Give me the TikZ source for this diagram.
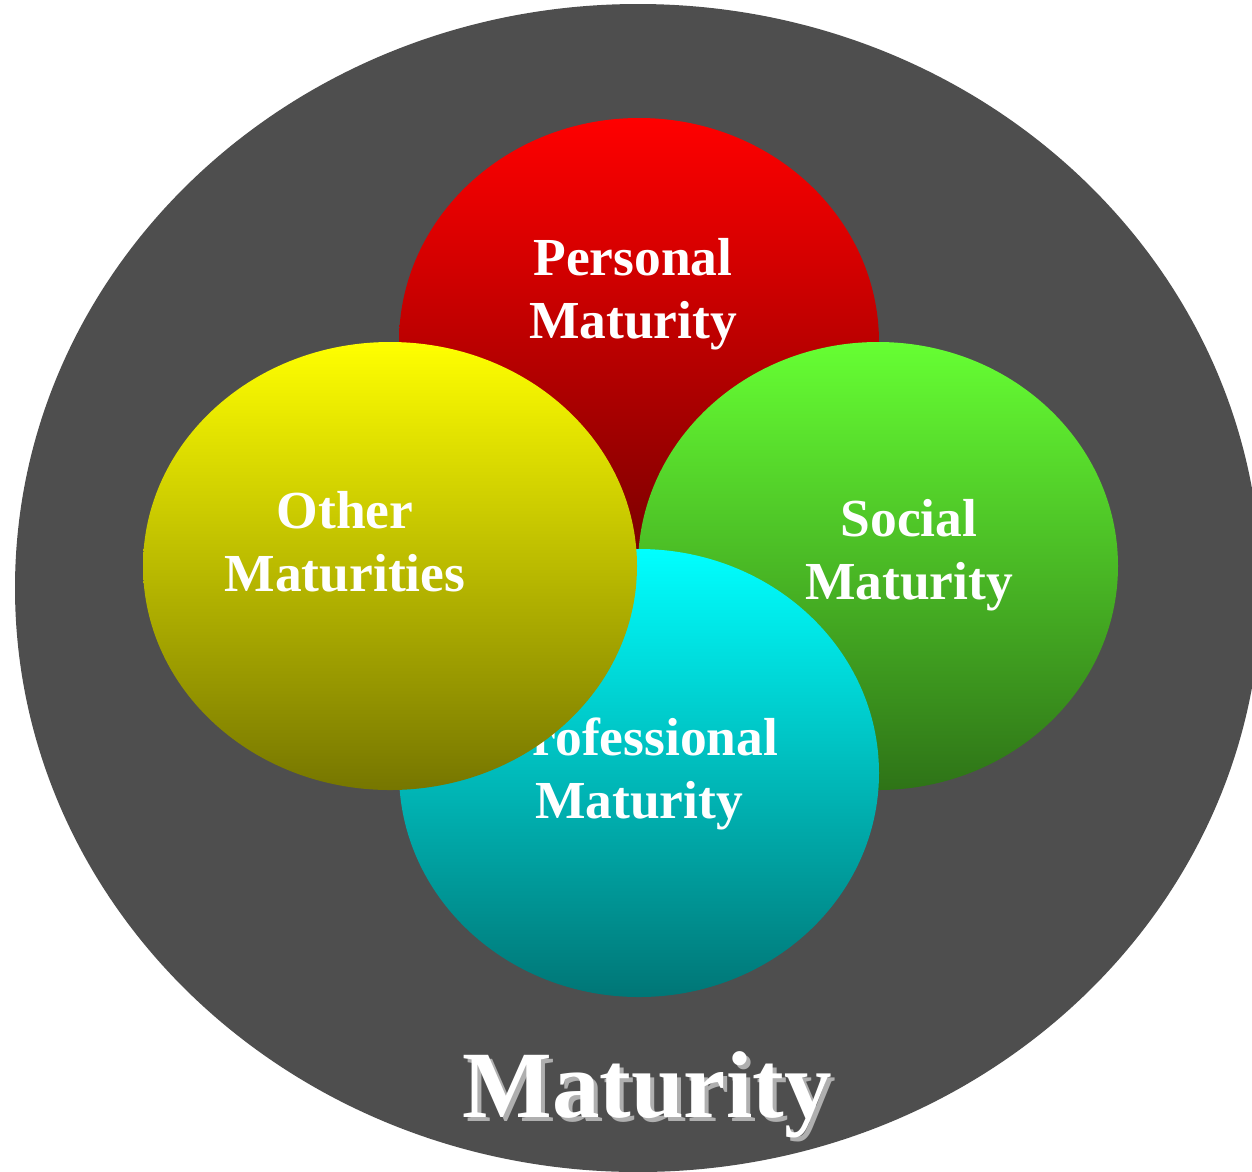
\documentclass[tikz,border=0pt]{standalone}
\usepackage{fontspec}
\setmainfont{Liberation Serif}
\usetikzlibrary{shapes.geometric}
\definecolor{bgray}{RGB}{78,78,78}
\definecolor{redtop}{RGB}{255,0,0}
\definecolor{redbot}{RGB}{120,0,0}
\definecolor{grntop}{RGB}{102,255,51}
\definecolor{grnbot}{RGB}{46,115,23}
\definecolor{cyntop}{RGB}{0,255,255}
\definecolor{cynbot}{RGB}{0,118,118}
\definecolor{yeltop}{RGB}{255,255,0}
\definecolor{yelbot}{RGB}{118,118,0}
\definecolor{shadowgray}{RGB}{175,175,175}
\tikzset{
  bubble/.style={ellipse, inner sep=0pt, outer sep=0pt, minimum width=480pt, minimum height=448pt},
  lbl/.style={text=white, align=center, inner sep=0pt, font=\fontsize{53.5}{63}\selectfont\bfseries},
  bigtxt/.style={inner sep=0pt, anchor=base, font=\fontsize{95}{100}\selectfont\bfseries}
}
\begin{document}
\begin{tikzpicture}[x=1pt,y=-1pt]
\useasboundingbox (0,0) rectangle (1252,1171);
\node[ellipse, fill=bgray, inner sep=0pt, minimum width=1246pt, minimum height=1168pt] (outer) at (638,588) {};
\node[bubble, top color=redtop, bottom color=redbot] (personal) at (639,342) {};
\node[lbl] (personaltxt) at (633,294) {Personal\\Maturity};
\node[bubble, top color=grntop, bottom color=grnbot] (social) at (878,566) {};
\node[lbl] (socialtxt) at (909,555) {Social\\Maturity};
\node[bubble, top color=cyntop, bottom color=cynbot] (professional) at (639,773) {};
\node[lbl] (professionaltxt) at (639,774) {Professional\\Maturity};
\node[bubble, minimum width=494pt, top color=yeltop, bottom color=yelbot] (other) at (390,566) {};
\node[lbl] (othertxt) at (345,542) {Other\\Maturities};
\node[bigtxt, text=white] (maturity) at (647,1117) {\rlap{\hspace{4pt}\raisebox{-4pt}{\textcolor{shadowgray}{Maturity}}}Maturity};
\end{tikzpicture}
\end{document}
